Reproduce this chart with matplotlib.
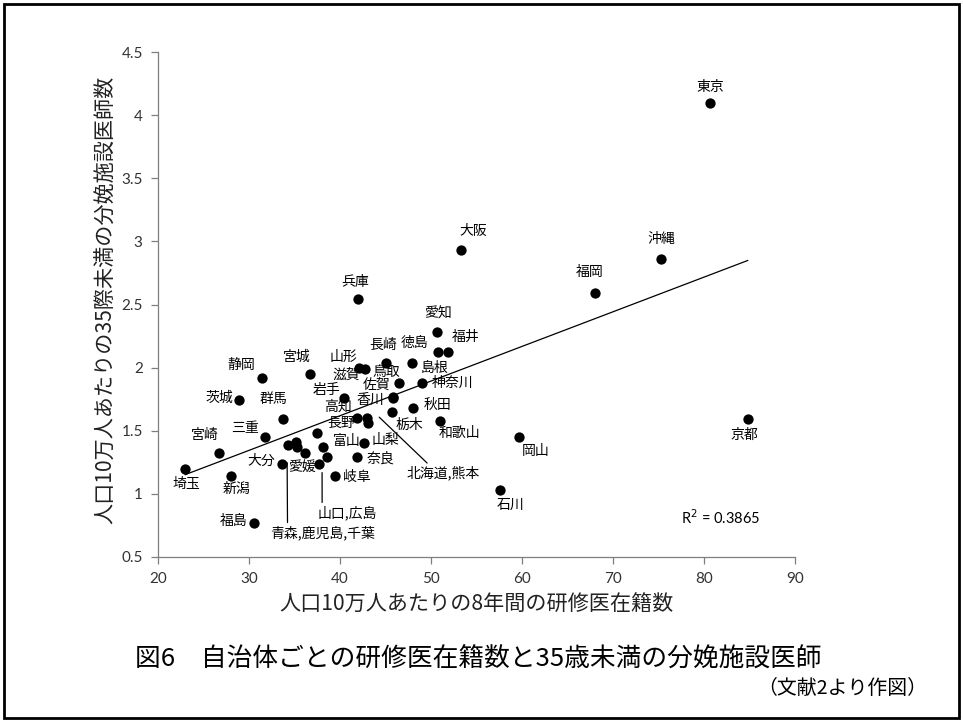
import numpy as np
import matplotlib
matplotlib.use("Agg")
import matplotlib.pyplot as plt
import matplotlib.transforms as mtransforms
from matplotlib.patches import Rectangle

plt.rcParams['font.family'] = ['Noto Sans CJK JP', 'DejaVu Sans']

# ---------------- data ----------------
prefs = ["東京", "大阪", "沖縄", "福岡", "兵庫", "愛知", "徳島", "福井", "長崎", "島根",
         "山形", "滋賀", "鳥取", "神奈川", "宮城", "静岡", "茨城", "岩手", "佐賀", "香川",
         "秋田", "和歌山", "栃木", "高知", "北海道", "熊本", "長野", "富山", "山梨", "奈良",
         "広島", "山口", "岐阜", "大分", "愛媛", "青森", "鹿児島", "千葉", "群馬", "三重",
         "宮崎", "埼玉", "新潟", "福島", "岡山", "京都", "石川"]
residents = [80.7, 53.3, 75.3, 68.0, 42.0, 50.7, 50.8, 51.9, 45.1, 47.9,
             42.1, 42.7, 46.5, 49.0, 36.7, 31.4, 28.9, 40.4, 45.8, 45.8,
             48.0, 51.0, 45.7, 41.9, 43.0, 43.1, 37.5, 38.1, 42.6, 41.9,
             38.6, 37.7, 39.5, 33.6, 36.2, 34.3, 35.2, 35.3, 33.7, 31.8,
             26.7, 23.0, 28.0, 30.5, 59.7, 84.8, 57.6]
doctors = [4.10, 2.93, 2.86, 2.59, 2.54, 2.28, 2.12, 2.12, 2.04, 2.04,
           2.00, 1.99, 1.88, 1.88, 1.95, 1.92, 1.74, 1.76, 1.77, 1.76,
           1.68, 1.58, 1.65, 1.60, 1.60, 1.56, 1.48, 1.37, 1.40, 1.29,
           1.29, 1.24, 1.14, 1.24, 1.32, 1.39, 1.41, 1.37, 1.59, 1.45,
           1.32, 1.20, 1.14, 0.77, 1.45, 1.59, 1.03]
x_ticks = [20, 30, 40, 50, 60, 70, 80, 90]
y_ticks = [0.5, 1, 1.5, 2, 2.5, 3, 3.5, 4, 4.5]
y_tick_labels = ["0.5", "1", "1.5", "2", "2.5", "3", "3.5", "4", "4.5"]
r2_text = "R$^2$ = 0.3865"
x_label = "人口10万人あたりの8年間の研修医在籍数"
y_label = "人口10万人あたりの35際未満の分娩施設医師数"
title = "図6　自治体ごとの研修医在籍数と35歳未満の分娩施設医師"
source = "（文献2より作図）"

# ---------------- layout (label offsets in pixels, image y-down) ----------------
label_offsets = {
    "東京": (0, -15), "大阪": (12, -19), "沖縄": (0, -20), "福岡": (-5, -21),
    "兵庫": (-3, -17), "愛知": (1, -19), "徳島": (-24, -10), "福井": (17, -16),
    "長崎": (-3, -18), "島根": (23, 5), "山形": (-16, -11), "滋賀": (-18, 6),
    "鳥取": (-13, -11), "神奈川": (31, 0), "宮城": (-13, -17), "静岡": (-20, -13),
    "茨城": (-20, -3), "岩手": (-17, -8), "佐賀": (-16, -12), "香川": (-22, 2),
    "秋田": (25, -3), "和歌山": (19, 12), "栃木": (18, 13), "高知": (-19, -11),
    "長野": (24, -10), "富山": (24, -6), "山梨": (22, -3), "奈良": (23, 1),
    "岐阜": (21, 1), "大分": (-20, -3), "愛媛": (-3, 13), "群馬": (-9, -20),
    "三重": (-20, -9), "宮崎": (-14, -18), "埼玉": (1, 15), "新潟": (6, 13),
    "福島": (-20, -2), "岡山": (16, 14), "京都": (-3, 16), "石川": (10, 15),
}
group_labels = [
    ("北海道,熊本", "熊本", (11, -6), (64, 56), (0.32, 1.0)),
    ("山口,広島", "山口", (3, 9), (25, 40), (0.08, 1.0)),
    ("青森,鹿児島,千葉", "青森", (-1, 18), (35, 70), (0.17, 1.0)),
]

W, H, DPI = 963, 722, 100
fig = plt.figure(figsize=(W / DPI, H / DPI), dpi=DPI)
fig.patch.set_facecolor("white")
ax = fig.add_axes([158 / W, 1 - 557 / H, (795 - 158) / W, (557 - 52) / H])

x = np.array(residents)
y = np.array(doctors)
ax.scatter(x, y, s=55, color="black", zorder=3, linewidths=0)

coef = np.polyfit(x, y, 1)
xs = np.array([x.min(), x.max()])
ax.plot(xs, np.polyval(coef, xs), color="black", lw=0.9, zorder=2)

ax.set_xlim(20, 90)
ax.set_ylim(0.5, 4.5)
ax.set_xticks(x_ticks)
ax.set_yticks(y_ticks)
ax.set_yticklabels(y_tick_labels)
for s in ["top", "right"]:
    ax.spines[s].set_visible(False)
for s in ["left", "bottom"]:
    ax.spines[s].set_color("#7f7f7f")
    ax.spines[s].set_linewidth(0.9)
ax.tick_params(direction="out", length=5, color="#7f7f7f", width=0.9,
               labelsize=11, labelcolor="#333333", pad=6)
for lab in ax.get_xticklabels() + ax.get_yticklabels():
    lab.set_fontfamily(["Lato", "DejaVu Sans"])

fig.text(476 / W, 1 - 605 / H, x_label, fontsize=15.2, ha="center", va="center",
         color="#222222")
fig.text(106 / W, 1 - 300 / H, y_label, fontsize=15.2, ha="center", va="center",
         rotation=90, color="#222222")

idx = {p: i for i, p in enumerate(prefs)}
for p, (dx, dy) in label_offsets.items():
    i = idx[p]
    ax.annotate(p, xy=(x[i], y[i]), xytext=(dx, -dy), textcoords="offset pixels",
                ha="center", va="center", fontsize=10, color="black", zorder=4)

for text, anchor, (lx, ly), (tx, ty), rel in group_labels:
    i = idx[anchor]
    tr = mtransforms.offset_copy(ax.transData, fig=fig, x=lx, y=-ly, units="dots")
    ax.annotate(text, xy=(x[i], y[i]), xycoords=tr, xytext=(tx, -ty),
                textcoords="offset pixels", ha="center", va="center", fontsize=10,
                arrowprops=dict(arrowstyle="-", color="black", lw=0.9, relpos=rel,
                                shrinkA=0, shrinkB=0), zorder=4)

ax.text(77.5, 0.81, r2_text, fontsize=10.5, ha="left", va="center",
        fontfamily=["Lato", "DejaVu Sans"])

fig.text(135 / W, 1 - 660 / H, title, fontsize=18.5, ha="left", va="center")
fig.text(927 / W, 1 - 688 / H, source, fontsize=14.3, ha="right", va="center")

fig.patches.append(Rectangle((4 / W, 4 / H), (W - 8) / W, (H - 8) / H,
                             transform=fig.transFigure, fill=False,
                             edgecolor="black", lw=2))

fig.savefig("out.png", dpi=DPI)
